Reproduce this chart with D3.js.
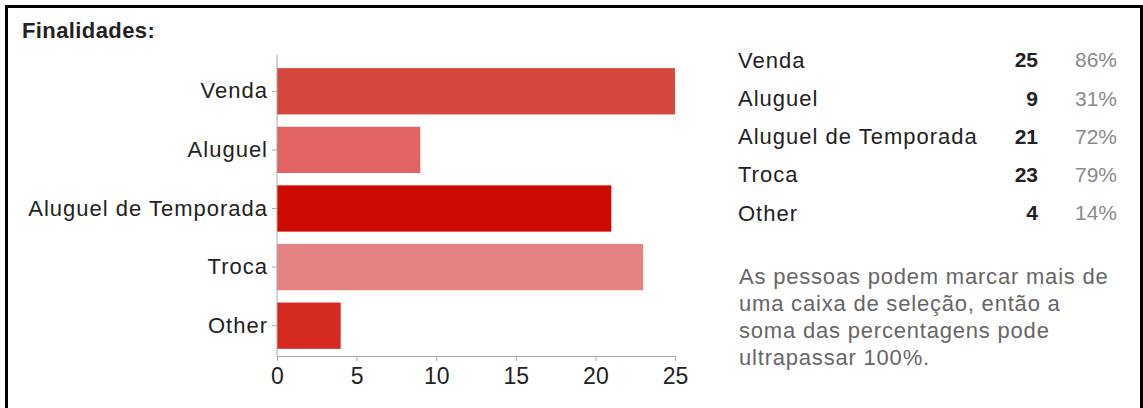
<!DOCTYPE html>
<html>
<head>
<meta charset="utf-8">
<script src="https://cdn.jsdelivr.net/npm/d3@7"></script>
<style>
  body { margin: 0; background: #fff; }
  svg { display: block; font-family: "Liberation Sans", Arial, sans-serif; }
</style>
</head>
<body>
<div id="chart"></div>
<script>
const categories = ['Venda', 'Aluguel', 'Aluguel de Temporada', 'Troca', 'Other'];
const counts = [25, 9, 21, 23, 4];
const percents = ['86%', '31%', '72%', '79%', '14%'];
const barColors = ['#d64740', '#e06462', '#cc0c00', '#e58382', '#d42a1f'];
const xTicks = [0, 5, 10, 15, 20, 25];
const title = 'Finalidades:';
const noteLines = [
    'As pessoas podem marcar mais de',
    'uma caixa de seleção, então a',
    'soma das percentagens pode',
    'ultrapassar 100%.'
];

const W = 1143, H = 408;
const svg = d3.select('#chart').append('svg')
    .attr('width', W)
    .attr('height', H);

// frame
svg.append('rect').attr('x', 5).attr('y', 5).attr('width', W - 5).attr('height', 3).attr('fill', '#000');
svg.append('rect').attr('x', 5).attr('y', 5).attr('width', 3).attr('height', H - 5).attr('fill', '#000');
svg.append('rect').attr('x', W - 3).attr('y', 5).attr('width', 3).attr('height', H - 5).attr('fill', '#000');

svg.append('text')
    .attr('x', 22)
    .attr('y', 38)
    .style('font-size', '22px')
    .style('font-weight', 'bold')
    .style('letter-spacing', '0.4px')
    .style('fill', '#222')
    .text(title);

const x = d3.scaleLinear().domain([0, 25]).range([277, 675]);
const y = d3.scaleBand().domain(categories).range([62, 355]).paddingInner(0.21).paddingOuter(0.105);

// bars
svg.selectAll('.bar')
    .data(categories)
    .enter().append('rect')
    .attr('class', 'bar')
    .attr('x', x(0))
    .attr('y', d => y(d))
    .attr('width', (d, i) => x(counts[i]) - x(0))
    .attr('height', y.bandwidth())
    .style('fill', (d, i) => barColors[i]);

// y axis
const yAxis = svg.append('g')
    .attr('transform', `translate(${x(0)},0)`)
    .call(d3.axisLeft(y).tickSize(5).tickPadding(4));
yAxis.select('.domain').attr('d', `M0,55V356`);
yAxis.selectAll('path, line').style('stroke', '#aaa');
yAxis.selectAll('text')
    .style('font-size', '22px')
    .style('letter-spacing', '1px')
    .style('fill', '#222')
    .style('font-family', '"Liberation Sans", Arial, sans-serif');

// x axis
const xAxis = svg.append('g')
    .attr('transform', 'translate(0,356)')
    .call(d3.axisBottom(x).tickValues(xTicks).tickSize(5).tickSizeOuter(0).tickPadding(7));
xAxis.selectAll('path, line').style('stroke', '#aaa');
xAxis.selectAll('text')
    .style('font-size', '23px')
    .style('fill', '#222')
    .style('font-family', '"Liberation Sans", Arial, sans-serif');

// table on the right
const rowY = d3.scalePoint().domain(categories).range([60, 213]);
const rows = svg.selectAll('.row')
    .data(categories)
    .enter().append('g')
    .attr('class', 'row')
    .attr('transform', d => `translate(0,${rowY(d)})`);

rows.append('text')
    .attr('x', 738)
    .attr('dy', '0.35em')
    .style('font-size', '22px')
    .style('letter-spacing', '1px')
    .style('fill', '#222')
    .text(d => d);

rows.append('text')
    .attr('x', 1038)
    .attr('dy', '0.35em')
    .attr('text-anchor', 'end')
    .style('font-size', '21px')
    .style('font-weight', 'bold')
    .style('fill', '#222')
    .text((d, i) => counts[i]);

rows.append('text')
    .attr('x', 1117)
    .attr('dy', '0.35em')
    .attr('text-anchor', 'end')
    .style('font-size', '21px')
    .style('fill', '#8a8a8a')
    .text((d, i) => percents[i]);

// note
svg.selectAll('.note')
    .data(noteLines)
    .enter().append('text')
    .attr('class', 'note')
    .attr('x', 739)
    .attr('y', (d, i) => 276 + i * 27)
    .attr('dy', '0.35em')
    .style('font-size', '22px')
    .style('letter-spacing', '0.8px')
    .style('fill', '#666')
    .text(d => d);
</script>
</body>
</html>
